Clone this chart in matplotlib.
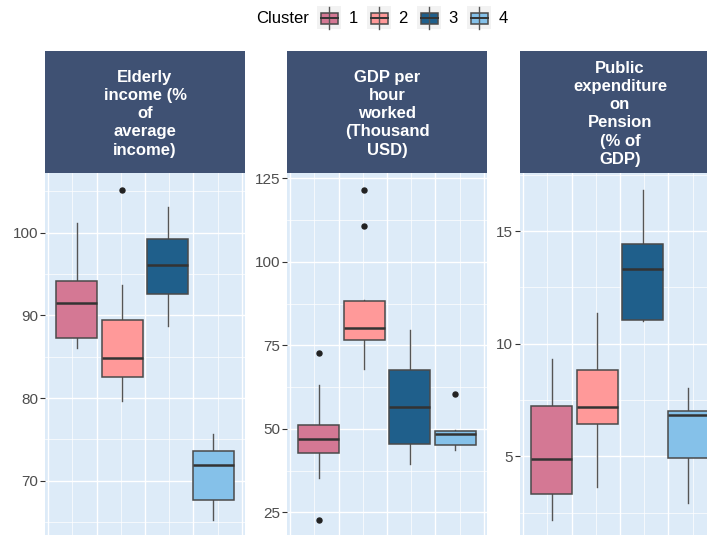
import numpy as np
import matplotlib.pyplot as plt
from matplotlib.patches import Rectangle
from matplotlib.ticker import FixedLocator

plt.rcParams['font.family'] = ['Liberation Sans', 'DejaVu Sans']

clusters = ['1', '2', '3', '4']
colors = ['#D47894', '#FF9999', '#1F5F8B', '#85C1E9']

facet_titles = [
    'Elderly\nincome (%\nof\naverage\nincome)',
    'GDP per\nhour\nworked\n(Thousand\nUSD)',
    'Public\nexpenditure\non\nPension\n(% of\nGDP)',
]

# box summaries per cluster (whisker low, Q1, median, Q3, whisker high)
elderly_lo = [86.0, 79.7, 88.7, 65.2]
elderly_q1 = [87.3, 82.5, 92.6, 67.7]
elderly_med = [91.5, 84.8, 96.1, 71.9]
elderly_q3 = [94.1, 89.4, 99.2, 73.6]
elderly_hi = [101.1, 93.7, 103.1, 75.6]
elderly_out = [[], [105.2], [], []]

gdp_lo = [35.4, 67.9, 39.6, 43.8]
gdp_q1 = [42.8, 76.7, 45.5, 45.2]
gdp_med = [47.1, 80.2, 56.5, 48.6]
gdp_q3 = [51.1, 88.2, 67.6, 49.5]
gdp_hi = [63.1, 88.5, 79.5, 49.6]
gdp_out = [[72.6, 22.6], [121.6, 110.6], [], [60.5]]

pension_lo = [2.15, 3.62, 11.03, 2.91]
pension_q1 = [3.33, 6.43, 11.07, 4.92]
pension_med = [4.88, 7.17, 13.32, 6.84]
pension_q3 = [7.23, 8.84, 14.45, 7.0]
pension_hi = [9.33, 11.36, 16.85, 8.03]
pension_out = [[], [], [], []]

facet_ticks = [[70, 80, 90, 100], [25, 50, 75, 100, 125], [5, 10, 15]]

facets = [
    (elderly_lo, elderly_q1, elderly_med, elderly_q3, elderly_hi, elderly_out),
    (gdp_lo, gdp_q1, gdp_med, gdp_q3, gdp_hi, gdp_out),
    (pension_lo, pension_q1, pension_med, pension_q3, pension_hi, pension_out),
]

W, H = 707, 535
fig = plt.figure(figsize=(W / 100, H / 100), dpi=100)


def px_axes(left, top, width, height, **kw):
    return fig.add_axes([left / W, 1 - (top + height) / H, width / W, height / H], **kw)


panel_bg = '#DDEBF8'
strip_bg = '#3F5173'
lefts = [45, 287, 520]
pw = 200

dodge = 0.75 / len(clusters)
positions = [(i - (len(clusters) - 1) / 2) * dodge for i in range(len(clusters))]

for k, (lo, q1, med, q3, hi, out) in enumerate(facets):
    ax = px_axes(lefts[k], 173, pw, 364)
    ax.set_facecolor(panel_bg)
    stats = []
    for i in range(len(clusters)):
        stats.append(dict(whislo=lo[i], q1=q1[i], med=med[i], q3=q3[i],
                          whishi=hi[i], fliers=out[i]))
    bp = ax.bxp(stats, positions=positions, widths=dodge * 0.9, patch_artist=True,
                showcaps=False,
                boxprops=dict(edgecolor='#4A4A4A', linewidth=1.1),
                whiskerprops=dict(color='#555555', linewidth=1.0),
                medianprops=dict(color='#333333', linewidth=1.8),
                flierprops=dict(marker='o', markerfacecolor='#222222',
                                markeredgecolor='#222222', markersize=3.6))
    for patch, c in zip(bp['boxes'], colors):
        patch.set_facecolor(c)
    for w in bp['whiskers']:
        w.set_zorder(1)

    vals = lo + hi + [v for o in out for v in o]
    vmin, vmax = min(vals), max(vals)
    pad = (vmax - vmin) * 0.05
    ax.set_ylim(vmin - pad, vmax + pad)
    ax.set_xlim(-0.4125, 0.4125)

    ticks = facet_ticks[k]
    step = ticks[1] - ticks[0]
    ax.yaxis.set_major_locator(FixedLocator(ticks))
    minors = [ticks[0] - step / 2] + [t + step / 2 for t in ticks]
    ax.yaxis.set_minor_locator(FixedLocator(minors))
    ax.xaxis.set_major_locator(FixedLocator([-0.4, -0.2, 0, 0.2, 0.4]))
    ax.xaxis.set_minor_locator(FixedLocator([-0.3, -0.1, 0.1, 0.3]))
    ax.grid(which='major', color='white', linewidth=1.0)
    ax.grid(which='minor', color='white', linewidth=0.5)
    ax.set_axisbelow(True)
    ax.tick_params(axis='x', which='both', length=0, labelbottom=False)
    ax.tick_params(axis='y', which='minor', length=0)
    ax.tick_params(axis='y', which='major', length=3.5, width=0.8, color='#333333',
                   labelsize=11, labelcolor='#4D4D4D', pad=1.5)
    ax.set_yticklabels([str(t) for t in ticks])
    for s in ax.spines.values():
        s.set_visible(False)

    sax = px_axes(lefts[k], 51, pw, 122)
    sax.set_facecolor(strip_bg)
    sax.set_xticks([])
    sax.set_yticks([])
    for s in sax.spines.values():
        s.set_visible(False)
    sax.text(0.5, 0.485, facet_titles[k], transform=sax.transAxes, ha='center',
             va='center', color='white', fontsize=12, fontweight='bold',
             linespacing=1.26)

# legend
lax = px_axes(0, 0, W, 40)
lax.set_xlim(0, W)
lax.set_ylim(40, 0)
lax.axis('off')
lax.text(309, 18.5, 'Cluster', ha='right', va='center', fontsize=12, color='black')
for i, (lab, c) in enumerate(zip(clusters, colors)):
    x0 = 317 + 50 * i
    lax.add_patch(Rectangle((x0, 6), 24, 23, facecolor='#F2F2F2', edgecolor='none'))
    lax.plot([x0 + 12, x0 + 12], [6.7, 29.3], color='#555555', linewidth=1.0)
    lax.add_patch(Rectangle((x0 + 3.5, 12.7), 17, 11.3, facecolor=c,
                            edgecolor='#4A4A4A', linewidth=1.1))
    lax.plot([x0 + 3.5, x0 + 20.5], [18.3, 18.3], color='#333333', linewidth=1.4)
    lax.text(x0 + 36, 18.5, lab, ha='center', va='center', fontsize=12, color='black')

fig.savefig('out.png', dpi=100)
